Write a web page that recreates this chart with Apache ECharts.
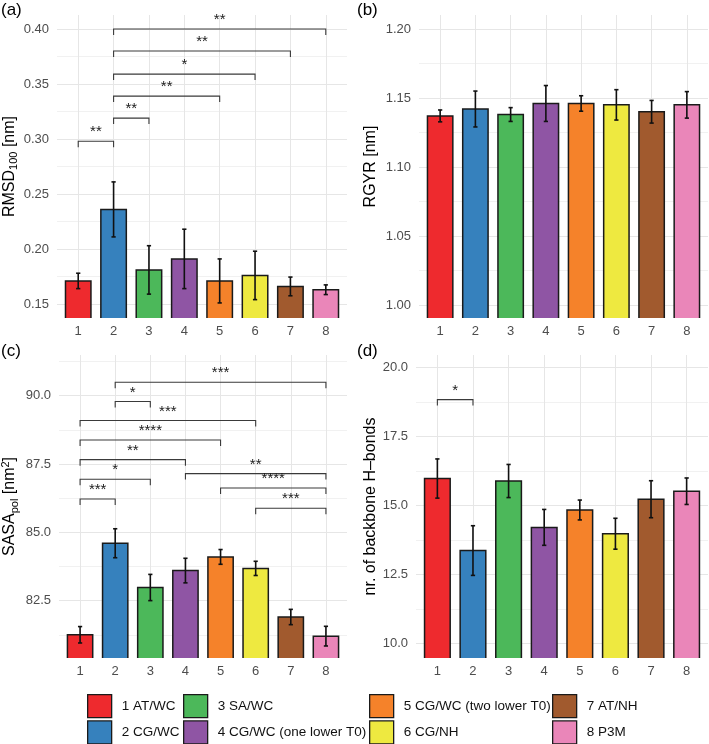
<!DOCTYPE html>
<html>
<head>
<meta charset="utf-8">
<script src="https://cdn.jsdelivr.net/npm/echarts@6/dist/echarts.min.js"></script>
<style>
  html, body { margin: 0; padding: 0; background: #ffffff; }
  #chart { width: 709px; height: 744px; }
</style>
</head>
<body>
<div id="chart"></div>
<script>
// ---------------- data ----------------
const categories = [1, 2, 3, 4, 5, 6, 7, 8];
const groupNames = ['1 AT/WC', '2 CG/WC', '3 SA/WC', '4 CG/WC (one lower T0)',
                    '5 CG/WC (two lower T0)', '6 CG/NH', '7 AT/NH', '8 P3M'];

const rmsdMean = [0.171, 0.236, 0.181, 0.191, 0.171, 0.176, 0.166, 0.163];
const rmsdSd   = [0.007, 0.025, 0.022, 0.027, 0.020, 0.022, 0.0085, 0.0044];
const rgyrMean = [1.137, 1.142, 1.138, 1.146, 1.146, 1.145, 1.140, 1.145];
const rgyrSd   = [0.0043, 0.013, 0.005, 0.013, 0.0056, 0.011, 0.0082, 0.0096];
const sasaMean = [81.25, 84.60, 82.98, 83.60, 84.10, 83.68, 81.90, 81.20];
const sasaSd   = [0.30, 0.53, 0.48, 0.45, 0.27, 0.26, 0.28, 0.36];
const hbondMean = [15.97, 13.36, 15.88, 14.20, 14.83, 13.97, 15.22, 15.51];
const hbondSd   = [0.71, 0.90, 0.60, 0.65, 0.36, 0.56, 0.67, 0.48];

// significance brackets: [from, to, height]
const rmsdSig = [[1, 2, 0.298], [2, 3, 0.319], [2, 5, 0.339], [2, 6, 0.359], [2, 7, 0.380], [2, 8, 0.400]];
const rmsdSigLabels = ['**', '**', '**', '*', '**', '**'];
const rgyrSig = [];
const rgyrSigLabels = [];
const sasaSig = [[2, 8, 90.49], [2, 3, 89.79], [1, 6, 89.09], [1, 5, 88.38], [1, 4, 87.66],
                 [4, 8, 87.15], [1, 3, 86.94], [5, 8, 86.62], [1, 2, 86.22], [6, 8, 85.88]];
const sasaSigLabels = ['***', '*', '***', '****', '**', '**', '*', '****', '***', '***'];
const hbondSig = [[1, 2, 18.83]];
const hbondSigLabels = ['*'];

// tick values and labels
const rmsdTicks = [0.15, 0.20, 0.25, 0.30, 0.35, 0.40];
const rmsdTickLabels = ['0.15', '0.20', '0.25', '0.30', '0.35', '0.40'];
const rmsdMinor = [0.175, 0.225, 0.275, 0.325, 0.375];
const rgyrTicks = [1.00, 1.05, 1.10, 1.15, 1.20];
const rgyrTickLabels = ['1.00', '1.05', '1.10', '1.15', '1.20'];
const rgyrMinor = [1.025, 1.075, 1.125, 1.175];
const sasaTicks = [82.5, 85.0, 87.5, 90.0];
const sasaTickLabels = ['82.5', '85.0', '87.5', '90.0'];
const sasaMinor = [81.25, 83.75, 86.25, 88.75, 91.25];
const hbondTicks = [10.0, 12.5, 15.0, 17.5, 20.0];
const hbondTickLabels = ['10.0', '12.5', '15.0', '17.5', '20.0'];
const hbondMinor = [11.25, 13.75, 16.25, 18.75];

// ---------------- styles / layout ----------------
const colors = ['#EE2A2E', '#3681BD', '#4CB85A', '#8F55A4', '#F5822A', '#EEE940', '#A15A2E', '#EA86B9'];
const FONT = '"Liberation Sans", Arial, Helvetica, sans-serif';
const TICK_COLOR = '#4d4d4d';
const BAR_W = 0.72;
const CAP_W = 0.12;

const panels = [
  { tag: '(a)', tagX: 1, tagY: 2, left: 57, right: 347, top: 15, bottom: 318, yMin: 0.1373, yMax: 0.4127,
    mean: rmsdMean, sd: rmsdSd, sig: rmsdSig, sigLabels: rmsdSigLabels,
    ticks: rmsdTicks, tickLabels: rmsdTickLabels, minor: rmsdMinor,
    name: '{n|RMSD}{sub|100}{n| [nm]}', nameGap: 37 },
  { tag: '(b)', tagX: 357, tagY: 2, left: 419, right: 708, top: 15, bottom: 318, yMin: 0.9906, yMax: 1.2101,
    mean: rgyrMean, sd: rgyrSd, sig: rgyrSig, sigLabels: rgyrSigLabels,
    ticks: rgyrTicks, tickLabels: rgyrTickLabels, minor: rgyrMinor,
    name: '{n|RGYR [nm]}', nameGap: 38 },
  { tag: '(c)', tagX: 1, tagY: 343, left: 59, right: 347, top: 355, bottom: 658, yMin: 80.40, yMax: 91.49,
    mean: sasaMean, sd: sasaSd, sig: sasaSig, sigLabels: sasaSigLabels,
    ticks: sasaTicks, tickLabels: sasaTickLabels, minor: sasaMinor,
    name: '{n|SASA}{sub|pol}{n| [nm}{sup|2}{n|]}', nameGap: 39 },
  { tag: '(d)', tagX: 357, tagY: 343, left: 416, right: 708, top: 355, bottom: 658, yMin: 9.467, yMax: 20.446,
    mean: hbondMean, sd: hbondSd, sig: hbondSig, sigLabels: hbondSigLabels,
    ticks: hbondTicks, tickLabels: hbondTickLabels, minor: hbondMinor,
    name: '{n|nr. of backbone H\u2013bonds}', nameGap: 35 }
];

const richName = {
  n: { fontSize: 16, fontFamily: FONT, color: '#000', lineHeight: 20 },
  sub: { fontSize: 11, fontFamily: FONT, color: '#000', lineHeight: 12, verticalAlign: 'bottom' },
  sup: { fontSize: 11, fontFamily: FONT, color: '#000', lineHeight: 12, verticalAlign: 'top' }
};

const grid = [], xAxis = [], yAxis = [], series = [], title = [];

panels.forEach((p, i) => {
  grid.push({ left: p.left, top: p.top, width: p.right - p.left, height: p.bottom - p.top,
              containLabel: false, outerBoundsMode: 'none' });
  title.push({ text: p.tag, left: p.tagX, top: p.tagY, padding: 0,
               textStyle: { fontFamily: FONT, fontSize: 17, fontWeight: 'normal', color: '#000' } });
  xAxis.push({
    gridIndex: i, type: 'value', min: 0.4, max: 8.6,
    axisLine: { show: false },
    axisTick: { show: false, customValues: categories },
    axisLabel: { customValues: categories, color: TICK_COLOR, fontSize: 13, fontFamily: FONT, margin: 7,
                 formatter: v => String(v) },
    splitLine: { show: true, lineStyle: { color: '#e6e6e6', width: 1 } }
  });
  yAxis.push({
    gridIndex: i, type: 'value', min: p.yMin, max: p.yMax,
    axisLine: { show: false },
    axisTick: { show: false, customValues: p.ticks },
    axisLabel: { customValues: p.ticks, color: TICK_COLOR, fontSize: 13, fontFamily: FONT, margin: 8,
                 formatter: v => { const k = p.ticks.findIndex(t => Math.abs(t - v) < 1e-6); return k >= 0 ? p.tickLabels[k] : ''; } },
    splitLine: { show: true, lineStyle: { color: '#e6e6e6', width: 1 } },
    name: p.name, nameLocation: 'middle', nameRotate: 90, nameGap: p.nameGap,
    nameTextStyle: { rich: richName }
  });
  yAxis.push({
    gridIndex: i, type: 'value', min: p.yMin, max: p.yMax, position: 'left',
    axisLine: { show: false },
    axisTick: { show: false, customValues: p.minor },
    axisLabel: { show: false },
    splitLine: { show: true, lineStyle: { color: '#f1f1f1', width: 1 } }
  });

  const yIdx = i * 2;
  // bars
  series.push({
    type: 'custom', xAxisIndex: i, yAxisIndex: yIdx, clip: true, z: 3,
    data: categories.map((c, k) => [c, p.mean[k]]),
    encode: { x: 0, y: 1 },
    renderItem: (params, api) => {
      const x = api.value(0), v = api.value(1);
      const top = api.coord([x, v]);
      const w = api.size([BAR_W, 0])[0];
      const cs = params.coordSys;
      const bottom = cs.y + cs.height + 4;
      return { type: 'rect',
               shape: { x: top[0] - w / 2, y: top[1], width: w, height: bottom - top[1] },
               style: { fill: colors[x - 1], stroke: '#1a1a1a', lineWidth: 1.5 } };
    }
  });
  // error bars
  series.push({
    type: 'custom', xAxisIndex: i, yAxisIndex: yIdx, clip: true, z: 4,
    data: categories.map((c, k) => [c, p.mean[k], p.sd[k]]),
    encode: { x: 0, y: 1 },
    renderItem: (params, api) => {
      const x = api.value(0), m = api.value(1), s = api.value(2);
      const hi = api.coord([x, m + s]);
      const lo = api.coord([x, m - s]);
      const cw = api.size([CAP_W, 0])[0] / 2;
      const st = { stroke: '#111', lineWidth: 1.6 };
      return { type: 'group', children: [
        { type: 'line', shape: { x1: hi[0], y1: hi[1], x2: lo[0], y2: lo[1] }, style: st },
        { type: 'line', shape: { x1: hi[0] - cw, y1: hi[1], x2: hi[0] + cw, y2: hi[1] }, style: st },
        { type: 'line', shape: { x1: lo[0] - cw, y1: lo[1], x2: lo[0] + cw, y2: lo[1] }, style: st }
      ] };
    }
  });
  // significance brackets
  if (p.sig.length) {
    series.push({
      type: 'custom', xAxisIndex: i, yAxisIndex: yIdx, clip: false, z: 5,
      data: p.sig,
      encode: { x: [0, 1], y: 2 },
      renderItem: (params, api) => {
        const a = api.coord([api.value(0), api.value(2)]);
        const b = api.coord([api.value(1), api.value(2)]);
        const tip = 6;
        return { type: 'group', children: [
          { type: 'polyline', shape: { points: [[a[0], a[1] + tip], [a[0], a[1]], [b[0], b[1]], [b[0], b[1] + tip]] },
            style: { stroke: '#3a3a3a', lineWidth: 1.1, fill: null } },
          { type: 'text', x: (a[0] + b[0]) / 2, y: a[1] - 9,
            style: { text: p.sigLabels[params.dataIndex], fontFamily: FONT, fontSize: 15, fill: '#1a1a1a',
                     align: 'center', verticalAlign: 'middle' } }
        ] };
      }
    });
  }
});

// legend-only series
groupNames.forEach((n, k) => {
  series.push({ type: 'bar', name: n, data: [], xAxisIndex: 0, yAxisIndex: 0,
                itemStyle: { color: colors[k], borderColor: '#1a1a1a', borderWidth: 1.3 } });
});

const legendX = [87, 183, 369, 552];
const legend = legendX.map((lx, col) => ({
  orient: 'vertical', left: lx, top: 694, height: 80, width: 200, padding: 0,
  itemWidth: 24, itemHeight: 23, itemGap: 2, icon: 'rect', selectedMode: false,
  data: [groupNames[col * 2], groupNames[col * 2 + 1]],
  itemStyle: { borderColor: '#1a1a1a', borderWidth: 1.3 },
  textStyle: { fontFamily: FONT, fontSize: 13.5, color: '#111', padding: [0, 0, 0, 5] }
}));

const chart = echarts.init(document.getElementById('chart'), null, { renderer: 'canvas' });
chart.setOption({
  animation: false,
  backgroundColor: '#ffffff',
  title, grid, xAxis, yAxis, series, legend
});
</script>
</body>
</html>
